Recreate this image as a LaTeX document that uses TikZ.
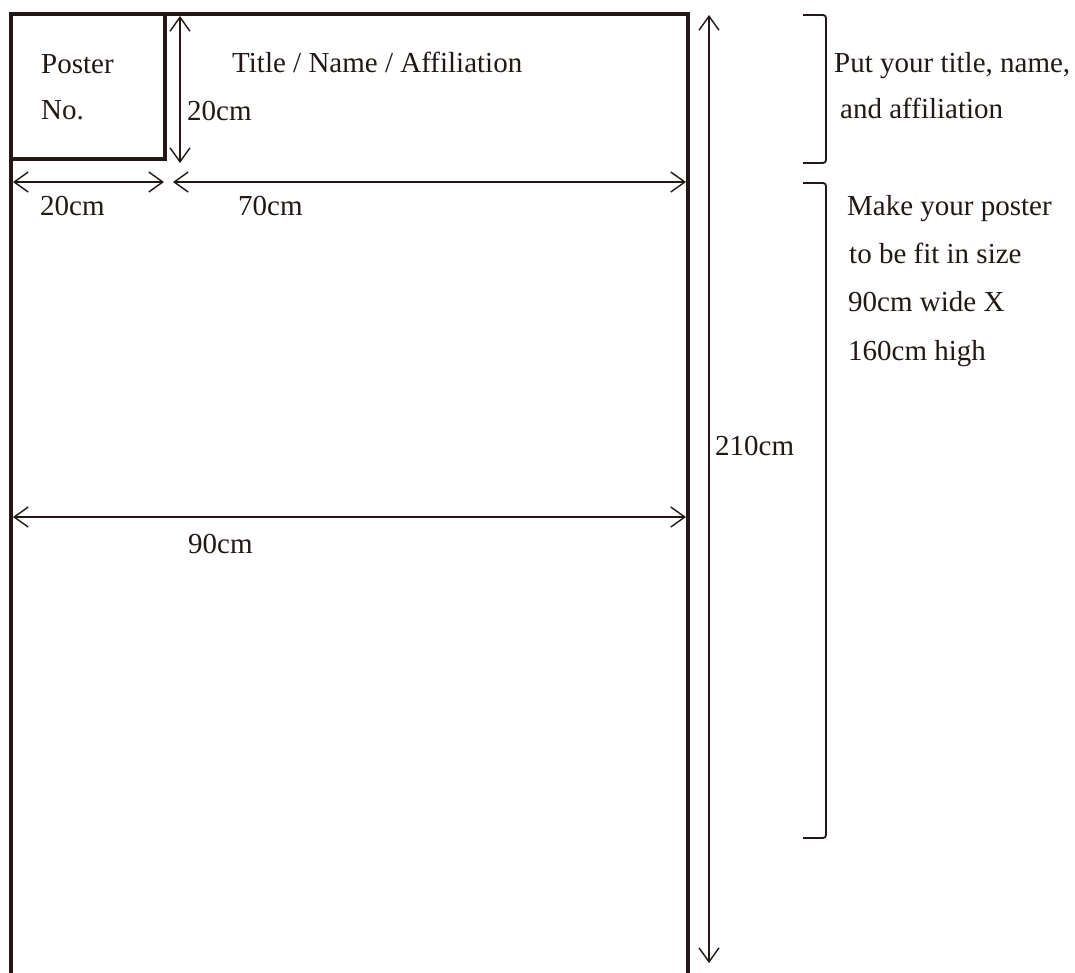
\documentclass[tikz,border=0pt]{standalone}
\usepackage{fontspec}
\setmainfont{Liberation Serif}
\usetikzlibrary{arrows.meta}
\definecolor{ink}{HTML}{231815}
\begin{document}
\begin{tikzpicture}[x=1pt,y=-1pt,
  frame/.style={draw=ink,line width=4.5pt},
  dim/.style={draw=ink,line width=1.4pt,{Straight Barb[length=14pt,width=20pt]}-{Straight Barb[length=14pt,width=20pt]}},
  brk/.style={draw=ink,line width=1.8pt,rounded corners=3pt},
  lbl/.style={anchor=base west,inner sep=0pt,text=ink,font=\fontsize{29}{33}\selectfont}]
\useasboundingbox[fill=white] (0,0) rectangle (1075,972);
% frame
\coordinate (fbl) at (11,985);
\coordinate (ftl) at (11,14);
\coordinate (ftr) at (688,14);
\coordinate (fbr) at (688,985);
\draw[frame,line join=miter] (fbl) -- (ftl) -- (ftr) -- (fbr);
\coordinate (bxl) at (11,159);
\coordinate (bxc) at (165,159);
\coordinate (bxt) at (165,14);
\draw[frame,line join=miter] (bxl) -- (bxc) -- (bxt);
% dimension arrows
\coordinate (v20a) at (180,16);
\coordinate (v20b) at (180,163);
\draw[dim] (v20a) -- (v20b);
\coordinate (h20a) at (13,182);
\coordinate (h20b) at (164,182);
\draw[dim] (h20a) -- (h20b);
\coordinate (h70a) at (173,182);
\coordinate (h70b) at (686,182);
\draw[dim] (h70a) -- (h70b);
\coordinate (h90a) at (13,517);
\coordinate (h90b) at (686,517);
\draw[dim] (h90a) -- (h90b);
\coordinate (v210a) at (709,15);
\coordinate (v210b) at (709,963);
\draw[dim] (v210a) -- (v210b);
% brackets
\coordinate (b1a) at (803,15);
\coordinate (b1b) at (826,15);
\coordinate (b1c) at (826,163);
\coordinate (b1d) at (803,163);
\draw[brk] (b1a) -- (b1b) -- (b1c) -- (b1d);
\coordinate (b2a) at (803,183);
\coordinate (b2b) at (826,183);
\coordinate (b2c) at (826,838);
\coordinate (b2d) at (803,838);
\draw[brk] (b2a) -- (b2b) -- (b2c) -- (b2d);
% labels
\node[lbl] (poster) at (41,73) {Poster};
\node[lbl] (no) at (41,119) {No.};
\node[lbl] (title) at (232,72) {Title / Name / Affiliation};
\node[lbl] (l20v) at (187,120) {20cm};
\node[lbl] (l20h) at (40,215) {20cm};
\node[lbl] (l70) at (238,215) {70cm};
\node[lbl] (l90) at (188,553) {90cm};
\node[lbl] (l210) at (715,455) {210cm};
\node[lbl] (put1) at (834,72) {Put your title, name,};
\node[lbl] (put2) at (840,118) {and affiliation};
\node[lbl] (mk1) at (847,215) {Make your poster};
\node[lbl] (mk2) at (849,263) {to be fit in size};
\node[lbl] (mk3) at (848,311) {90cm wide X};
\node[lbl] (mk4) at (848,360) {160cm high};
\end{tikzpicture}
\end{document}
